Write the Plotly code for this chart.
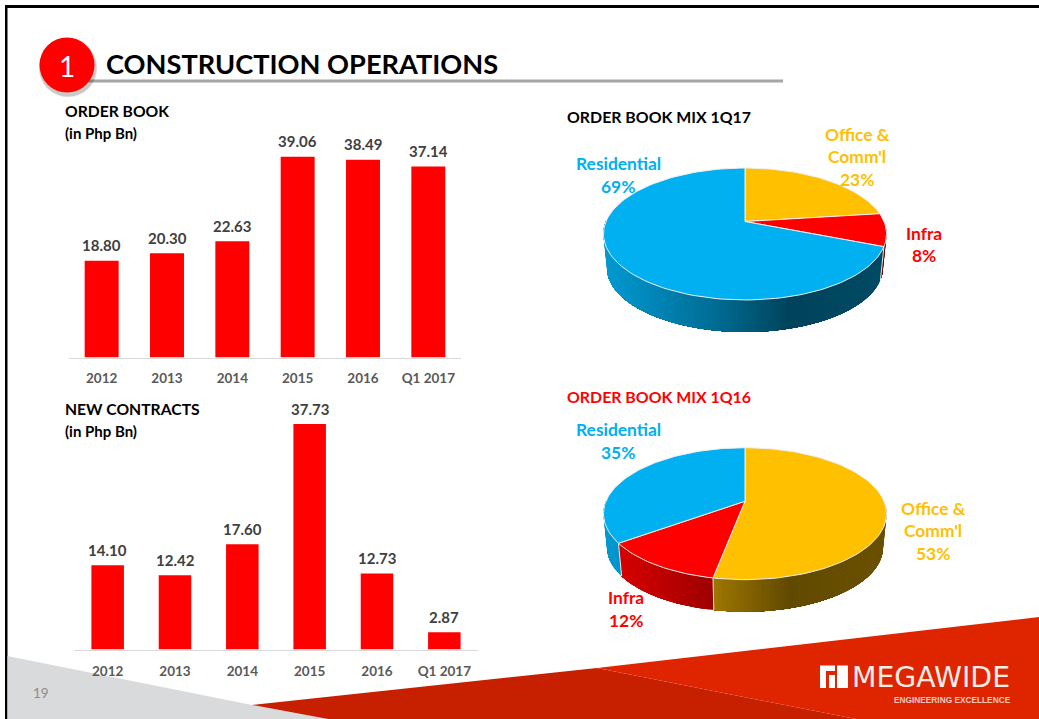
import math
import plotly.graph_objects as go

W, H = 1039, 719

# ---- data ----
years = ["2012", "2013", "2014", "2015", "2016", "Q1 2017"]
order_book = [18.80, 20.30, 22.63, 39.06, 38.49, 37.14]
new_contracts = [14.10, 12.42, 17.60, 37.73, 12.73, 2.87]
mix_1q17_labels = ["Office & Comm'l", "Infra", "Residential"]
mix_1q17_values = [23, 8, 69]
mix_1q16_labels = ["Office & Comm'l", "Infra", "Residential"]
mix_1q16_values = [53, 12, 35]

COL = {"Office & Comm'l": (255, 192, 0), "Infra": (255, 0, 0), "Residential": (0, 176, 240)}
FONT = "Lato, Carlito, Calibri, sans-serif"


def px(x):
    return x / W


def py(y):
    return 1 - y / H


fig = go.Figure()
shapes = []
ann = []


def poly(points, color, layer="below", opacity=1):
    path = "M " + " L ".join(f"{px(x):.5f},{py(y):.5f}" for x, y in points) + " Z"
    shapes.append(dict(type="path", xref="paper", yref="paper", path=path, fillcolor=color,
                       line=dict(width=0), layer=layer, opacity=opacity))


def rect(x0, y0, x1, y1, color, layer="below", opacity=1):
    poly([(x0, y0), (x1, y0), (x1, y1), (x0, y1)], color, layer, opacity)


def circle(cx, cy, r, color, layer="below", opacity=1):
    shapes.append(dict(type="circle", xref="paper", yref="paper", x0=px(cx - r), x1=px(cx + r),
                       y0=py(cy + r), y1=py(cy - r), fillcolor=color, line=dict(width=0),
                       layer=layer, opacity=opacity))


def text(x, y, s, size, color, bold=True, anchor="left", family=FONT):
    ann.append(dict(xref="paper", yref="paper", x=px(x), y=py(y), text=f"<b>{s}</b>" if bold else s,
                    showarrow=False, xanchor=anchor, yanchor="middle", align=anchor,
                    font=dict(family=family, size=size, color=color)))


# ---- slide furniture ----
rect(5, 5, W, 8, "#000000")
rect(5, 5, 7.5, H, "#000000")
poly([(7.5, 656), (252, 705), (328, H), (7.5, H)], "#D9DADB")
poly([(252, 705), (597, 668), (856, H), (328, H)], "#C62000")
poly([(597, 668), (W, 617), (W, H), (856, H)], "#DF2500")
rect(85, 79.5, 783, 82.5, "#A6A6A6")
for r, o in [(29.5, 0.05), (29, 0.07), (28.5, 0.1)]:
    circle(68, 68, r, "#000000", opacity=o)
circle(67, 65, 27.5, "#FF0000")
text(67, 66, "1", 28, "#FFFFFF", bold=False, anchor="center")
text(104, 64, "CONSTRUCTION OPERATIONS", 27.2, "#000000")
text(63, 110.5, "ORDER BOOK", 15.7, "#000000")
text(63, 133, "(in Php Bn)", 15, "#000000")
text(63, 408.5, "NEW CONTRACTS", 15.7, "#000000")
text(63, 431, "(in Php Bn)", 15, "#000000")
text(565, 116.5, "ORDER BOOK MIX 1Q17", 15.9, "#000000")
text(565, 396.5, "ORDER BOOK MIX 1Q16", 15.9, "#FF0000")
text(40.5, 693, "19", 13.5, "#8C8C8C", bold=False, anchor="center")

# logo
rect(820, 665.5, 835, 671, "#FFFFFF", layer="above")
rect(820, 671, 826, 688, "#FFFFFF", layer="above")
rect(829, 675, 835, 688, "#FFFFFF", layer="above")
rect(837, 665.5, 848, 688, "#FFFFFF", layer="above")
text(849.5, 677, "MEGAWIDE", 28.3, "#FBEDE8", bold=False, family="DejaVu Sans")
text(1012.5, 700, "ENGINEERING EXCELLENCE", 8.3, "#F7C9BC", anchor="right", family="Liberation Sans")


# ---- bar charts ----
def bars(values, xa, ya, width, lift):
    fig.add_trace(go.Bar(x=list(range(len(years))), y=values, xaxis=xa, yaxis=ya, width=[width] * len(values),
                         marker=dict(color="#FF0000", line=dict(width=0)),
                         hoverinfo="skip", showlegend=False))
    for i, v in enumerate(values):
        ann.append(dict(xref=xa, yref=ya, x=i, y=v, yshift=lift, text=f"<b>{v:.2f}</b>", showarrow=False,
                        xanchor="center", yanchor="middle",
                        font=dict(family=FONT, size=15, color="#404040")))


bars(order_book, "x", "y", 0.52, 15.5)
bars(new_contracts, "x2", "y2", 0.483, 15)


def bar_axes(x0, x1, ybase, ytop, ymax, standoff):
    xa = dict(domain=[px(x0), px(x1)], type="linear", range=[-0.5, len(years) - 0.5],
              tickmode="array", tickvals=list(range(len(years))), ticktext=years,
              showgrid=False, zeroline=False, showline=True,
              linecolor="#D9D9D9", linewidth=1, ticks="", ticklabelstandoff=standoff,
              tickfont=dict(family=FONT, size=13.5, color="#595959", weight="bold"))
    ya = dict(domain=[py(ybase), py(ytop)], range=[0, ymax], visible=False, showgrid=False, zeroline=False)
    return xa, ya


xa1, ya1 = bar_axes(69, 461, 357.5, 100, (357.5 - 100) / 5.14, 8)
xa2, ya2 = bar_axes(74, 478, 649.5, 390, (649.5 - 390) / 5.977, 9)
xa2["anchor"] = "y2"
ya2["anchor"] = "x2"

# ---- perspective pies, one overlay axis in slide pixels ----
CX, A, B, K = 745, 139, 63.6, 0.1894
S = 0.975


def rim(theta, y0, s=1.0):
    u, v = math.sin(theta), math.cos(theta)
    d = 1 + K * v
    return CX + s * A * u / d, y0 - s * B * v / d


def shade(x):
    stops = [(605, 0.87), (713, 0.62), (790, 0.38), (885, 0.42)]
    for (a, fa), (b, fb) in zip(stops, stops[1:]):
        if x <= b:
            return fa + (fb - fa) * max(0, x - a) / (b - a)
    return stops[-1][1]


def filled(pts, fill, line, width):
    fig.add_trace(go.Scatter(x=[p[0] for p in pts], y=[p[1] for p in pts], mode="lines", fill="toself",
                             fillcolor=fill, line=dict(color=line, width=width), xaxis="x3", yaxis="y3",
                             hoverinfo="skip", showlegend=False))


def pie(labels, values, y0, y0b):
    total = sum(values)
    edges = [0]
    for v in values:
        edges.append(edges[-1] + v / total * 2 * math.pi)
    # side wall first; each later strip paints over the rest of the wedge, so no seams show
    step = math.radians(1.5)
    for lab, a, b in zip(labels, edges, edges[1:]):
        lo, hi = max(a, math.pi / 2), min(b, 3 * math.pi / 2)
        if hi <= lo:
            continue
        n = max(2, int((hi - lo) / step))
        for i in range(n):
            t0 = lo + (hi - lo) * i / n
            pts = [rim(t0 + (hi - t0) * j / 40, y0) for j in range(41)] + \
                  [rim(hi - (hi - t0) * j / 40, y0b, S) for j in range(41)]
            xm = rim(t0 + (hi - lo) / n / 2, y0)[0]
            f = shade(xm)
            c = "rgb(%d,%d,%d)" % tuple(round(ch * f) for ch in COL[lab])
            filled(pts + [pts[0]], c, "rgba(0,0,0,0)", 0)
    # wall dividers
    for e in edges[1:-1]:
        if math.pi / 2 < e < 3 * math.pi / 2:
            p, q = rim(e, y0), rim(e, y0b, S)
            fig.add_trace(go.Scatter(x=[p[0], q[0]], y=[p[1], q[1]], mode="lines", xaxis="x3", yaxis="y3",
                                     line=dict(color="#E8E8E8", width=1), hoverinfo="skip", showlegend=False))
    # top faces
    for lab, a, b in zip(labels, edges, edges[1:]):
        n = max(4, int((b - a) / math.radians(2)))
        pts = [(CX, y0)] + [rim(a + (b - a) * i / n, y0) for i in range(n + 1)] + [(CX, y0)]
        filled(pts, "rgb(%d,%d,%d)" % COL[lab], "#EFEFEF", 1)


pie(mix_1q17_labels, mix_1q17_values, 221.5, 255.5)
pie(mix_1q16_labels, mix_1q16_values, 501.2, 535.2)


def label(x, ys, lines, color):
    for y, s in zip(ys, lines):
        text(x, y - 0.7, s, 17.4, color, anchor="center")


c = {k: "rgb(%d,%d,%d)" % v for k, v in COL.items()}
label(857, [135, 157, 180], ["Office &amp;", "Comm'l", f"{mix_1q17_values[0]}%"], c["Office & Comm'l"])
label(618, [164, 187], ["Residential", f"{mix_1q17_values[2]}%"], c["Residential"])
label(924, [234, 256], ["Infra", f"{mix_1q17_values[1]}%"], c["Infra"])
label(933, [509, 531, 554], ["Office &amp;", "Comm'l", f"{mix_1q16_values[0]}%"], c["Office & Comm'l"])
label(618, [430, 453], ["Residential", f"{mix_1q16_values[2]}%"], c["Residential"])
label(626, [598, 621], ["Infra", f"{mix_1q16_values[1]}%"], c["Infra"])

fig.update_layout(
    width=W, height=H, margin=dict(l=0, r=0, t=0, b=0, pad=0), autosize=False,
    paper_bgcolor="#FFFFFF", plot_bgcolor="rgba(0,0,0,0)", showlegend=False,
    xaxis=xa1, yaxis=ya1, xaxis2=xa2, yaxis2=ya2,
    xaxis3=dict(domain=[0, 1], range=[0, W], visible=False, anchor="y3"),
    yaxis3=dict(domain=[0, 1], range=[H, 0], visible=False, anchor="x3"),
    shapes=shapes, annotations=ann,
)
fig.write_html("out.html", config={"displayModeBar": False},
               post_script="document.body.style.margin='0';window.dispatchEvent(new Event('resize'));")
